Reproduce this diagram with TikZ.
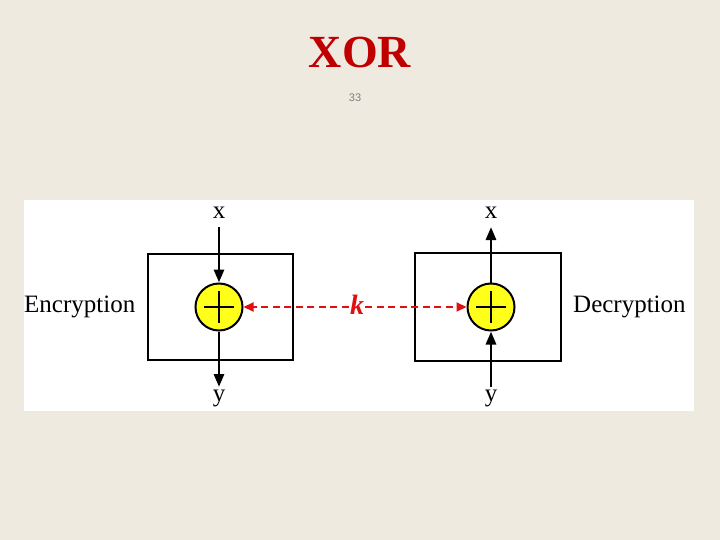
\documentclass[tikz,border=0pt]{standalone}
\usepackage{fontspec}
\setmainfont{Liberation Serif}
\newfontfamily\numfont{Liberation Sans}
\usetikzlibrary{arrows.meta}
\definecolor{bgc}{HTML}{EEEAE0}
\definecolor{titlered}{HTML}{C00000}
\definecolor{kred}{HTML}{E01010}
\definecolor{xyel}{HTML}{FFFF1A}
\begin{document}
\begin{tikzpicture}[x=1pt,y=-1pt,
  lbl/.style={inner sep=0pt,font=\fontsize{25}{28}\selectfont},
  boxst/.style={draw=black,line width=1.8pt},
  xorst/.style={circle,draw=black,line width=2pt,fill=xyel,minimum size=47pt,inner sep=0pt},
  flow/.style={line width=2.8pt,-{Triangle[length=13pt,width=10pt]}},
  keyarr/.style={draw=kred,line width=2pt,dash pattern=on 7pt off 4.5pt,-{Triangle[length=10pt,width=9pt]}}]
\useasboundingbox (0,0) rectangle (720,540);
\fill[bgc] (0,0) rectangle (720,540);
\fill[white] (24,200) rectangle (694,411);
\node[font=\bfseries\fontsize{46}{50}\selectfont,text=titlered] (title) at (360,52) {XOR};
\node[font=\numfont\fontsize{11}{12}\selectfont,text=gray] (num) at (355,98) {33};
% boxes
\draw[boxst] (148,254) rectangle (293,360);
\draw[boxst] (415,253) rectangle (561,361);
% xor circles
\node[xorst] (e) at (219,307) {};
\node[xorst] (d) at (491,307) {};
\draw[line width=1.4pt] ([xshift=-15pt]e.center) -- ([xshift=15pt]e.center) ([yshift=-16pt]e.center) -- ([yshift=16pt]e.center);
\draw[line width=1.4pt] ([xshift=-15pt]d.center) -- ([xshift=15pt]d.center) ([yshift=-16pt]d.center) -- ([yshift=16pt]d.center);
% labels
\node[lbl] (ex) at (219,213) {x};
\node[lbl] (ey) at (219,398) {y};
\node[lbl] (dx) at (491,213) {x};
\node[lbl] (dy) at (491,398) {y};
\node[lbl,anchor=west] (enc) at (24,307) {Encryption};
\node[lbl,anchor=west] (dec) at (573,307) {Decryption};
\node[inner sep=1pt,text=kred,font=\bfseries\itshape\fontsize{28}{30}\selectfont] (k) at (357,305) {k};
% flows
\coordinate (ext) at (219,227);
\coordinate (eyb) at (219,387);
\coordinate (dxt) at (491,227);
\coordinate (dyb) at (491,387);
\draw[flow] (ext) -- (e.north);
\draw[flow] (e.south) -- (eyb);
\draw[flow] (d.north) -- (dxt);
\draw[flow] (dyb) -- (d.south);
\draw[keyarr] (k.west |- e.east) -- (e.east);
\draw[keyarr] (k.east |- d.west) -- (d.west);
\end{tikzpicture}
\end{document}
